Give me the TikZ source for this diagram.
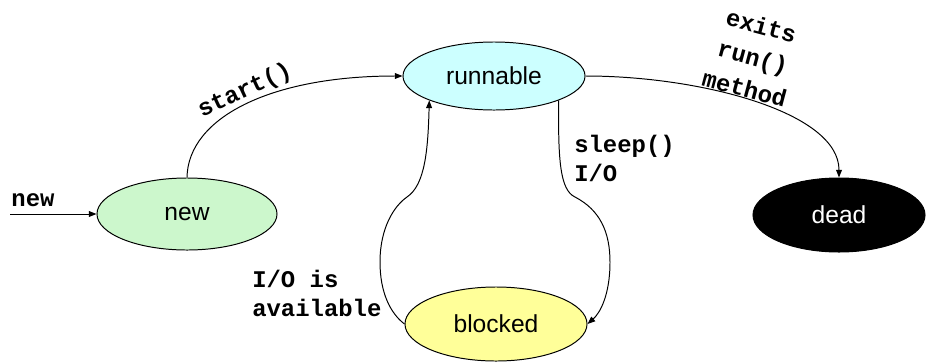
\documentclass[tikz,border=0pt]{standalone}
\usepackage{fontspec}
\setmainfont{Liberation Sans}
\newfontfamily\codefont{Liberation Mono}
\usetikzlibrary{shapes.geometric,arrows.meta}
\definecolor{newfill}{HTML}{CCF7CC}
\definecolor{runfill}{HTML}{CCFFFF}
\definecolor{blockfill}{HTML}{FFFF99}
\tikzset{
  state/.style={ellipse, draw, line width=0.7pt, inner sep=0pt,
    font=\fontsize{17.5}{20}\selectfont},
  trans/.style={draw, line width=0.7pt, -{Triangle[length=5.5pt,width=4.2pt]}},
  code/.style={font=\codefont\bfseries\fontsize{17}{20.5}\selectfont, inner sep=0pt}
}
\begin{document}
\begin{tikzpicture}[x=0.025cm,y=-0.025cm]
  \useasboundingbox (0,0) rectangle (927,363);
  % states
  \node[state, fill=newfill,   minimum width=4.5cm,  minimum height=1.8cm]  (new)      at (187,214) {new};
  \node[state, fill=runfill,   minimum width=4.55cm, minimum height=1.7cm]  (runnable) at (494,76)  {runnable};
  \node[state, fill=black, text=white, minimum width=4.3cm, minimum height=1.85cm] (dead) at (839,215) {dead};
  \node[state, fill=blockfill, minimum width=4.55cm, minimum height=1.85cm] (blocked)  at (496,324) {blocked};
  % entry
  \coordinate (entry) at (10,214);
  \draw[trans] (entry) -- (new.west);
  \node[code] (lnew) at (33,200) {new};
  % new -> runnable
  \draw[trans] (new.north) .. controls (188,118) and (270,76) .. (runnable.west);
  \node[code, rotate=25] (lstart) at (245,91) {start()};
  % runnable -> dead
  \draw[trans] (runnable.east) .. controls (700,76) and (839,112) .. (dead.north);
  \node[code, rotate=-15, align=center, font=\codefont\bfseries\fontsize{17}{23}\selectfont]
    (lexit) at (753,57) {exits\\run()\\method};
  % runnable -> blocked
  \draw[trans] (runnable.south east) .. controls (558,160) and (560,190) .. (575,197)
     .. controls (600,210) and (610,232) .. (610,262)
     .. controls (610,295) and (600,313) .. (blocked.east);
  \node[code, align=left, anchor=north west] (lsleep) at (574,135) {sleep()\\I/O};
  % blocked -> runnable
  \draw[trans] (blocked.west) .. controls (390,313) and (380,292) .. (380,262)
     .. controls (380,228) and (394,206) .. (407,197)
     .. controls (425,185) and (428,150) .. (runnable.south west);
  \node[code, align=left, anchor=north west] (lio) at (252,270) {I/O is\\available};
\end{tikzpicture}
\end{document}
